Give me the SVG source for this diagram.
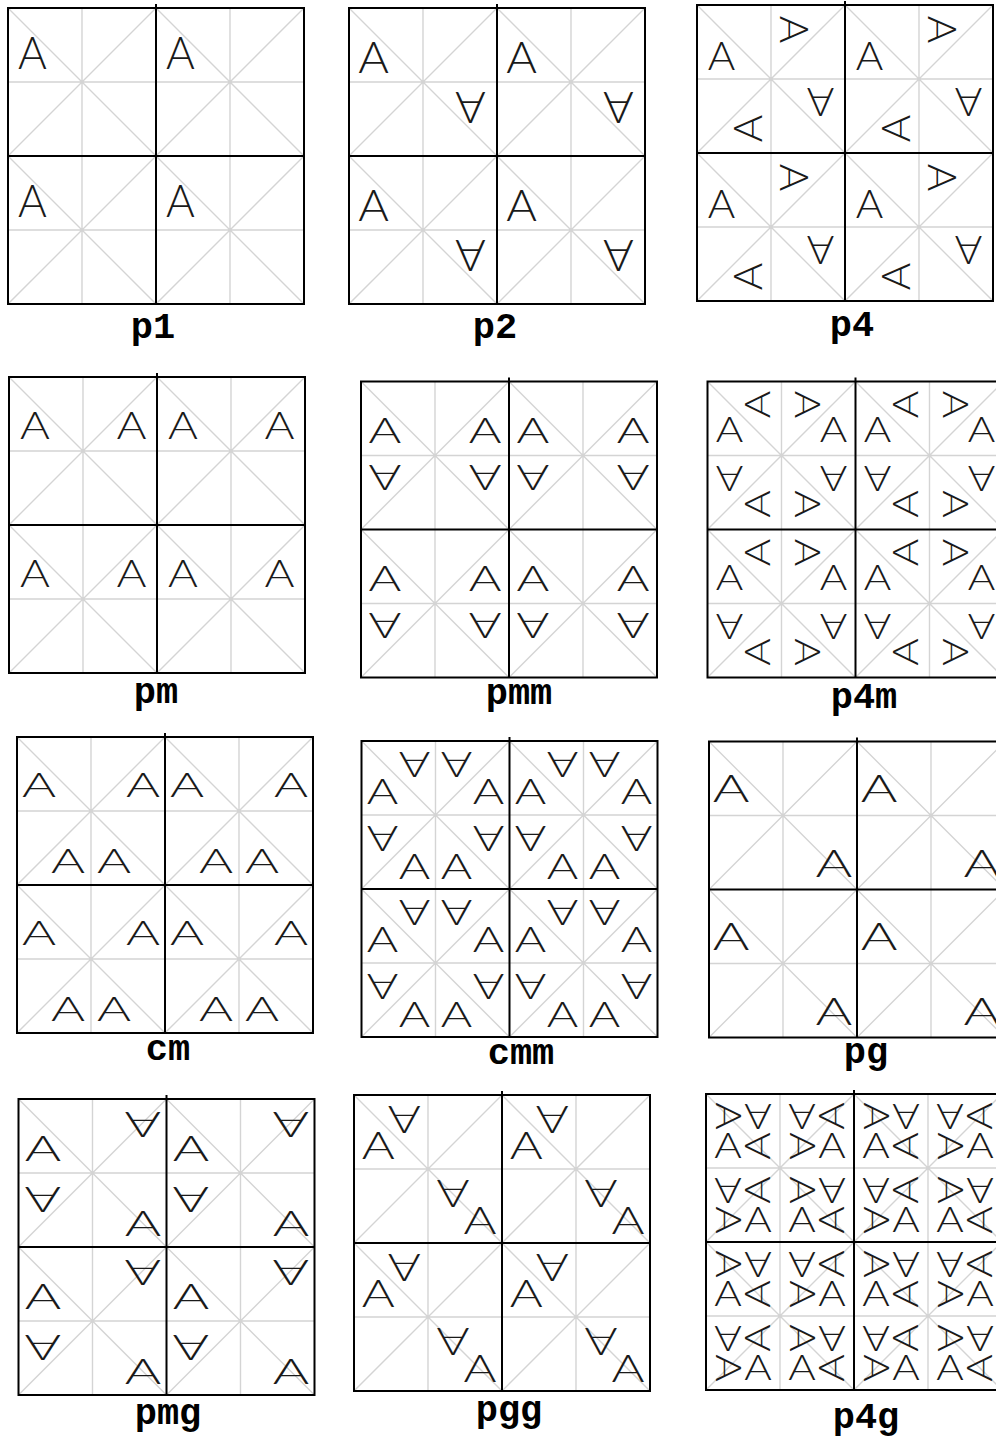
<svg xmlns="http://www.w3.org/2000/svg" xmlns:xlink="http://www.w3.org/1999/xlink" width="996" height="1436" viewBox="0 0 996 1436">
<style>
.bg{fill:#fff}
.grid{fill:none;stroke:#d4d4d4;stroke-width:1.4}
.frame{fill:none;stroke:#000;stroke-width:2}
.g{font-family:Lato,"Open Sans","DejaVu Sans",sans-serif;font-weight:300;font-size:40px;fill:#1a1a1a;text-anchor:middle}
.lbl{font-family:"Liberation Mono","DejaVu Sans Mono",monospace;font-weight:bold;font-size:37px;fill:#000;text-anchor:middle}
</style>
<defs>
<path id="grid" class="grid" d="M74 0V148M0 74H148M0 0L148 148M148 0L0 148"/>
<g id="grids"><use href="#grid"/><use href="#grid" x="148"/><use href="#grid" y="148"/><use href="#grid" x="148" y="148"/></g>
</defs>
<rect class="bg" width="996" height="1436"/>

<g id="panel-p1">
<g transform="translate(8,8)">
<use href="#grids"/>
<g><text class="g" y="14.3" transform="translate(24.5,45) scale(1.1,1.15)">A</text></g>
<g transform="translate(148,0)"><text class="g" y="14.3" transform="translate(24.5,45) scale(1.1,1.15)">A</text></g>
<g transform="translate(0,148)"><text class="g" y="14.3" transform="translate(24.5,45) scale(1.1,1.15)">A</text></g>
<g transform="translate(148,148)"><text class="g" y="14.3" transform="translate(24.5,45) scale(1.1,1.15)">A</text></g>
<path class="frame" d="M0 0H296V296H0ZM148 -4V296M0 148H296"/>
</g>
<text class="lbl" x="153" y="338">p1</text>
</g>

<g id="panel-p2">
<g transform="translate(349,8)">
<use href="#grids"/>
<g><text class="g" y="14.3" transform="translate(24.5,49) scale(1.17,1.1)">A</text><text class="g" y="14.3" transform="translate(121.5,100) rotate(180) scale(1.17,1.1)">A</text></g>
<g transform="translate(148,0)"><text class="g" y="14.3" transform="translate(24.5,49) scale(1.17,1.1)">A</text><text class="g" y="14.3" transform="translate(121.5,100) rotate(180) scale(1.17,1.1)">A</text></g>
<g transform="translate(0,148)"><text class="g" y="14.3" transform="translate(24.5,49) scale(1.17,1.1)">A</text><text class="g" y="14.3" transform="translate(121.5,100) rotate(180) scale(1.17,1.1)">A</text></g>
<g transform="translate(148,148)"><text class="g" y="14.3" transform="translate(24.5,49) scale(1.17,1.1)">A</text><text class="g" y="14.3" transform="translate(121.5,100) rotate(180) scale(1.17,1.1)">A</text></g>
<path class="frame" d="M0 0H296V296H0ZM148 -4V296M0 148H296"/>
</g>
<text class="lbl" x="495" y="338">p2</text>
</g>

<g id="panel-p4">
<g transform="translate(697,5)">
<use href="#grids"/>
<g><text class="g" y="14.3" transform="translate(24.5,50.5) scale(1.05,0.98)">A</text><text class="g" y="14.3" transform="translate(97.5,24.5) rotate(90) scale(1.05,0.98)">A</text><text class="g" y="14.3" transform="translate(123.5,97.5) rotate(180) scale(1.05,0.98)">A</text><text class="g" y="14.3" transform="translate(50.5,123.5) rotate(270) scale(1.05,0.98)">A</text></g>
<g transform="translate(148,0)"><text class="g" y="14.3" transform="translate(24.5,50.5) scale(1.05,0.98)">A</text><text class="g" y="14.3" transform="translate(97.5,24.5) rotate(90) scale(1.05,0.98)">A</text><text class="g" y="14.3" transform="translate(123.5,97.5) rotate(180) scale(1.05,0.98)">A</text><text class="g" y="14.3" transform="translate(50.5,123.5) rotate(270) scale(1.05,0.98)">A</text></g>
<g transform="translate(0,148)"><text class="g" y="14.3" transform="translate(24.5,50.5) scale(1.05,0.98)">A</text><text class="g" y="14.3" transform="translate(97.5,24.5) rotate(90) scale(1.05,0.98)">A</text><text class="g" y="14.3" transform="translate(123.5,97.5) rotate(180) scale(1.05,0.98)">A</text><text class="g" y="14.3" transform="translate(50.5,123.5) rotate(270) scale(1.05,0.98)">A</text></g>
<g transform="translate(148,148)"><text class="g" y="14.3" transform="translate(24.5,50.5) scale(1.05,0.98)">A</text><text class="g" y="14.3" transform="translate(97.5,24.5) rotate(90) scale(1.05,0.98)">A</text><text class="g" y="14.3" transform="translate(123.5,97.5) rotate(180) scale(1.05,0.98)">A</text><text class="g" y="14.3" transform="translate(50.5,123.5) rotate(270) scale(1.05,0.98)">A</text></g>
<path class="frame" d="M0 0H296V296H0ZM148 -4V296M0 148H296"/>
</g>
<text class="lbl" x="852" y="336">p4</text>
</g>

<g id="panel-pm">
<g transform="translate(9,377)">
<use href="#grids"/>
<g><text class="g" y="14.3" transform="translate(26,49) scale(1.14,0.93)">A</text><text class="g" y="14.3" transform="translate(122.5,49) scale(-1.14,0.93)">A</text></g>
<g transform="translate(148,0)"><text class="g" y="14.3" transform="translate(26,49) scale(1.14,0.93)">A</text><text class="g" y="14.3" transform="translate(122.5,49) scale(-1.14,0.93)">A</text></g>
<g transform="translate(0,148)"><text class="g" y="14.3" transform="translate(26,49) scale(1.14,0.93)">A</text><text class="g" y="14.3" transform="translate(122.5,49) scale(-1.14,0.93)">A</text></g>
<g transform="translate(148,148)"><text class="g" y="14.3" transform="translate(26,49) scale(1.14,0.93)">A</text><text class="g" y="14.3" transform="translate(122.5,49) scale(-1.14,0.93)">A</text></g>
<path class="frame" d="M0 0H296V296H0ZM148 -4V296M0 148H296"/>
</g>
<text class="lbl" x="156" y="703">pm</text>
</g>

<g id="panel-pmm">
<g transform="translate(361,381.5)">
<use href="#grids"/>
<g><text class="g" y="14.3" transform="translate(24,49) scale(1.25,0.87)">A</text><text class="g" y="14.3" transform="translate(124,49) scale(-1.25,0.87)">A</text><text class="g" y="14.3" transform="translate(24,96) scale(1.25,-0.87)">A</text><text class="g" y="14.3" transform="translate(124,96) scale(-1.25,-0.87)">A</text></g>
<g transform="translate(148,0)"><text class="g" y="14.3" transform="translate(24,49) scale(1.25,0.87)">A</text><text class="g" y="14.3" transform="translate(124,49) scale(-1.25,0.87)">A</text><text class="g" y="14.3" transform="translate(24,96) scale(1.25,-0.87)">A</text><text class="g" y="14.3" transform="translate(124,96) scale(-1.25,-0.87)">A</text></g>
<g transform="translate(0,148)"><text class="g" y="14.3" transform="translate(24,49) scale(1.25,0.87)">A</text><text class="g" y="14.3" transform="translate(124,49) scale(-1.25,0.87)">A</text><text class="g" y="14.3" transform="translate(24,96) scale(1.25,-0.87)">A</text><text class="g" y="14.3" transform="translate(124,96) scale(-1.25,-0.87)">A</text></g>
<g transform="translate(148,148)"><text class="g" y="14.3" transform="translate(24,49) scale(1.25,0.87)">A</text><text class="g" y="14.3" transform="translate(124,49) scale(-1.25,0.87)">A</text><text class="g" y="14.3" transform="translate(24,96) scale(1.25,-0.87)">A</text><text class="g" y="14.3" transform="translate(124,96) scale(-1.25,-0.87)">A</text></g>
<path class="frame" d="M0 0H296V296H0ZM148 -4V296M0 148H296"/>
</g>
<text class="lbl" x="519" y="704">pmm</text>
</g>

<g id="panel-p4m">
<g transform="translate(707.5,381.5)">
<use href="#grids"/>
<g><text class="g" y="14.3" transform="translate(22,48) scale(1.05,0.88)">A</text><text class="g" y="14.3" transform="translate(50,23) rotate(270) scale(1.05,0.88)">A</text><text class="g" y="14.3" transform="translate(100,23) rotate(90) scale(1.05,0.88)">A</text><text class="g" y="14.3" transform="translate(126,48) scale(1.05,0.88)">A</text><text class="g" y="14.3" transform="translate(126,97.5) rotate(180) scale(1.05,0.88)">A</text><text class="g" y="14.3" transform="translate(100,122.5) rotate(90) scale(1.05,0.88)">A</text><text class="g" y="14.3" transform="translate(50,122.5) rotate(270) scale(1.05,0.88)">A</text><text class="g" y="14.3" transform="translate(22,97.5) rotate(180) scale(1.05,0.88)">A</text></g>
<g transform="translate(148,0)"><text class="g" y="14.3" transform="translate(22,48) scale(1.05,0.88)">A</text><text class="g" y="14.3" transform="translate(50,23) rotate(270) scale(1.05,0.88)">A</text><text class="g" y="14.3" transform="translate(100,23) rotate(90) scale(1.05,0.88)">A</text><text class="g" y="14.3" transform="translate(126,48) scale(1.05,0.88)">A</text><text class="g" y="14.3" transform="translate(126,97.5) rotate(180) scale(1.05,0.88)">A</text><text class="g" y="14.3" transform="translate(100,122.5) rotate(90) scale(1.05,0.88)">A</text><text class="g" y="14.3" transform="translate(50,122.5) rotate(270) scale(1.05,0.88)">A</text><text class="g" y="14.3" transform="translate(22,97.5) rotate(180) scale(1.05,0.88)">A</text></g>
<g transform="translate(0,148)"><text class="g" y="14.3" transform="translate(22,48) scale(1.05,0.88)">A</text><text class="g" y="14.3" transform="translate(50,23) rotate(270) scale(1.05,0.88)">A</text><text class="g" y="14.3" transform="translate(100,23) rotate(90) scale(1.05,0.88)">A</text><text class="g" y="14.3" transform="translate(126,48) scale(1.05,0.88)">A</text><text class="g" y="14.3" transform="translate(126,97.5) rotate(180) scale(1.05,0.88)">A</text><text class="g" y="14.3" transform="translate(100,122.5) rotate(90) scale(1.05,0.88)">A</text><text class="g" y="14.3" transform="translate(50,122.5) rotate(270) scale(1.05,0.88)">A</text><text class="g" y="14.3" transform="translate(22,97.5) rotate(180) scale(1.05,0.88)">A</text></g>
<g transform="translate(148,148)"><text class="g" y="14.3" transform="translate(22,48) scale(1.05,0.88)">A</text><text class="g" y="14.3" transform="translate(50,23) rotate(270) scale(1.05,0.88)">A</text><text class="g" y="14.3" transform="translate(100,23) rotate(90) scale(1.05,0.88)">A</text><text class="g" y="14.3" transform="translate(126,48) scale(1.05,0.88)">A</text><text class="g" y="14.3" transform="translate(126,97.5) rotate(180) scale(1.05,0.88)">A</text><text class="g" y="14.3" transform="translate(100,122.5) rotate(90) scale(1.05,0.88)">A</text><text class="g" y="14.3" transform="translate(50,122.5) rotate(270) scale(1.05,0.88)">A</text><text class="g" y="14.3" transform="translate(22,97.5) rotate(180) scale(1.05,0.88)">A</text></g>
<path class="frame" d="M0 0H296V296H0ZM148 -4V296M0 148H296"/>
</g>
<text class="lbl" x="864" y="708">p4m</text>
</g>

<g id="panel-cm">
<g transform="translate(17,737)">
<use href="#grids"/>
<g><text class="g" y="14.3" transform="translate(22,48) scale(1.3,0.85)">A</text><text class="g" y="14.3" transform="translate(126,48) scale(1.3,0.85)">A</text><text class="g" y="14.3" transform="translate(51,123.5) scale(1.3,0.85)">A</text><text class="g" y="14.3" transform="translate(97,123.5) scale(1.3,0.85)">A</text></g>
<g transform="translate(148,0)"><text class="g" y="14.3" transform="translate(22,48) scale(1.3,0.85)">A</text><text class="g" y="14.3" transform="translate(126,48) scale(1.3,0.85)">A</text><text class="g" y="14.3" transform="translate(51,123.5) scale(1.3,0.85)">A</text><text class="g" y="14.3" transform="translate(97,123.5) scale(1.3,0.85)">A</text></g>
<g transform="translate(0,148)"><text class="g" y="14.3" transform="translate(22,48) scale(1.3,0.85)">A</text><text class="g" y="14.3" transform="translate(126,48) scale(1.3,0.85)">A</text><text class="g" y="14.3" transform="translate(51,123.5) scale(1.3,0.85)">A</text><text class="g" y="14.3" transform="translate(97,123.5) scale(1.3,0.85)">A</text></g>
<g transform="translate(148,148)"><text class="g" y="14.3" transform="translate(22,48) scale(1.3,0.85)">A</text><text class="g" y="14.3" transform="translate(126,48) scale(1.3,0.85)">A</text><text class="g" y="14.3" transform="translate(51,123.5) scale(1.3,0.85)">A</text><text class="g" y="14.3" transform="translate(97,123.5) scale(1.3,0.85)">A</text></g>
<path class="frame" d="M0 0H296V296H0ZM148 -4V296M0 148H296"/>
</g>
<text class="lbl" x="168" y="1060">cm</text>
</g>

<g id="panel-cmm">
<g transform="translate(361.5,741)">
<use href="#grids"/>
<g><text class="g" y="14.3" transform="translate(21,49.8) scale(1.2,0.9)">A</text><text class="g" y="14.3" transform="translate(127,49.8) scale(1.2,0.9)">A</text><text class="g" y="14.3" transform="translate(21,98.2) rotate(180) scale(1.2,0.9)">A</text><text class="g" y="14.3" transform="translate(127,98.2) rotate(180) scale(1.2,0.9)">A</text><text class="g" y="14.3" transform="translate(53,24) rotate(180) scale(1.2,0.9)">A</text><text class="g" y="14.3" transform="translate(95,24) rotate(180) scale(1.2,0.9)">A</text><text class="g" y="14.3" transform="translate(53,124.8) scale(1.2,0.9)">A</text><text class="g" y="14.3" transform="translate(95,124.8) scale(1.2,0.9)">A</text></g>
<g transform="translate(148,0)"><text class="g" y="14.3" transform="translate(21,49.8) scale(1.2,0.9)">A</text><text class="g" y="14.3" transform="translate(127,49.8) scale(1.2,0.9)">A</text><text class="g" y="14.3" transform="translate(21,98.2) rotate(180) scale(1.2,0.9)">A</text><text class="g" y="14.3" transform="translate(127,98.2) rotate(180) scale(1.2,0.9)">A</text><text class="g" y="14.3" transform="translate(53,24) rotate(180) scale(1.2,0.9)">A</text><text class="g" y="14.3" transform="translate(95,24) rotate(180) scale(1.2,0.9)">A</text><text class="g" y="14.3" transform="translate(53,124.8) scale(1.2,0.9)">A</text><text class="g" y="14.3" transform="translate(95,124.8) scale(1.2,0.9)">A</text></g>
<g transform="translate(0,148)"><text class="g" y="14.3" transform="translate(21,49.8) scale(1.2,0.9)">A</text><text class="g" y="14.3" transform="translate(127,49.8) scale(1.2,0.9)">A</text><text class="g" y="14.3" transform="translate(21,98.2) rotate(180) scale(1.2,0.9)">A</text><text class="g" y="14.3" transform="translate(127,98.2) rotate(180) scale(1.2,0.9)">A</text><text class="g" y="14.3" transform="translate(53,24) rotate(180) scale(1.2,0.9)">A</text><text class="g" y="14.3" transform="translate(95,24) rotate(180) scale(1.2,0.9)">A</text><text class="g" y="14.3" transform="translate(53,124.8) scale(1.2,0.9)">A</text><text class="g" y="14.3" transform="translate(95,124.8) scale(1.2,0.9)">A</text></g>
<g transform="translate(148,148)"><text class="g" y="14.3" transform="translate(21,49.8) scale(1.2,0.9)">A</text><text class="g" y="14.3" transform="translate(127,49.8) scale(1.2,0.9)">A</text><text class="g" y="14.3" transform="translate(21,98.2) rotate(180) scale(1.2,0.9)">A</text><text class="g" y="14.3" transform="translate(127,98.2) rotate(180) scale(1.2,0.9)">A</text><text class="g" y="14.3" transform="translate(53,24) rotate(180) scale(1.2,0.9)">A</text><text class="g" y="14.3" transform="translate(95,24) rotate(180) scale(1.2,0.9)">A</text><text class="g" y="14.3" transform="translate(53,124.8) scale(1.2,0.9)">A</text><text class="g" y="14.3" transform="translate(95,124.8) scale(1.2,0.9)">A</text></g>
<path class="frame" d="M0 0H296V296H0ZM148 -4V296M0 148H296"/>
</g>
<text class="lbl" x="521" y="1064">cmm</text>
</g>

<g id="panel-pg">
<g transform="translate(709,741.5)">
<use href="#grids"/>
<g><text class="g" y="14.3" transform="translate(22,46.7) scale(1.4,0.93)">A</text><text class="g" y="14.3" transform="translate(125,122.5) scale(-1.4,0.93)">A</text></g>
<g transform="translate(148,0)"><text class="g" y="14.3" transform="translate(22,46.7) scale(1.4,0.93)">A</text><text class="g" y="14.3" transform="translate(125,122.5) scale(-1.4,0.93)">A</text></g>
<g transform="translate(0,148)"><text class="g" y="14.3" transform="translate(22,46.7) scale(1.4,0.93)">A</text><text class="g" y="14.3" transform="translate(125,122.5) scale(-1.4,0.93)">A</text></g>
<g transform="translate(148,148)"><text class="g" y="14.3" transform="translate(22,46.7) scale(1.4,0.93)">A</text><text class="g" y="14.3" transform="translate(125,122.5) scale(-1.4,0.93)">A</text></g>
<path class="frame" d="M0 0H296V296H0ZM148 -4V296M0 148H296"/>
</g>
<text class="lbl" x="866" y="1063">pg</text>
</g>

<g id="panel-pmg">
<g transform="translate(18.5,1099)">
<use href="#grids"/>
<g><text class="g" y="14.3" transform="translate(24.4,49) scale(1.39,0.9)">A</text><text class="g" y="14.3" transform="translate(24.4,101) rotate(180) scale(1.39,0.9)">A</text><text class="g" y="14.3" transform="translate(124.4,25.7) rotate(180) scale(1.39,0.9)">A</text><text class="g" y="14.3" transform="translate(124.4,124) scale(1.39,0.9)">A</text></g>
<g transform="translate(148,0)"><text class="g" y="14.3" transform="translate(24.4,49) scale(1.39,0.9)">A</text><text class="g" y="14.3" transform="translate(24.4,101) rotate(180) scale(1.39,0.9)">A</text><text class="g" y="14.3" transform="translate(124.4,25.7) rotate(180) scale(1.39,0.9)">A</text><text class="g" y="14.3" transform="translate(124.4,124) scale(1.39,0.9)">A</text></g>
<g transform="translate(0,148)"><text class="g" y="14.3" transform="translate(24.4,49) scale(1.39,0.9)">A</text><text class="g" y="14.3" transform="translate(24.4,101) rotate(180) scale(1.39,0.9)">A</text><text class="g" y="14.3" transform="translate(124.4,25.7) rotate(180) scale(1.39,0.9)">A</text><text class="g" y="14.3" transform="translate(124.4,124) scale(1.39,0.9)">A</text></g>
<g transform="translate(148,148)"><text class="g" y="14.3" transform="translate(24.4,49) scale(1.39,0.9)">A</text><text class="g" y="14.3" transform="translate(24.4,101) rotate(180) scale(1.39,0.9)">A</text><text class="g" y="14.3" transform="translate(124.4,25.7) rotate(180) scale(1.39,0.9)">A</text><text class="g" y="14.3" transform="translate(124.4,124) scale(1.39,0.9)">A</text></g>
<path class="frame" d="M0 0H296V296H0ZM148 -4V296M0 148H296"/>
</g>
<text class="lbl" x="168" y="1424">pmg</text>
</g>

<g id="panel-pgg">
<g transform="translate(354,1095)">
<use href="#grids"/>
<g><text class="g" y="14.3" transform="translate(24.3,50.3) scale(1.26,0.95)">A</text><text class="g" y="14.3" transform="translate(50.2,25) rotate(180) scale(1.26,0.95)">A</text><text class="g" y="14.3" transform="translate(99,98.8) rotate(180) scale(1.26,0.95)">A</text><text class="g" y="14.3" transform="translate(126,125) scale(1.26,0.95)">A</text></g>
<g transform="translate(148,0)"><text class="g" y="14.3" transform="translate(24.3,50.3) scale(1.26,0.95)">A</text><text class="g" y="14.3" transform="translate(50.2,25) rotate(180) scale(1.26,0.95)">A</text><text class="g" y="14.3" transform="translate(99,98.8) rotate(180) scale(1.26,0.95)">A</text><text class="g" y="14.3" transform="translate(126,125) scale(1.26,0.95)">A</text></g>
<g transform="translate(0,148)"><text class="g" y="14.3" transform="translate(24.3,50.3) scale(1.26,0.95)">A</text><text class="g" y="14.3" transform="translate(50.2,25) rotate(180) scale(1.26,0.95)">A</text><text class="g" y="14.3" transform="translate(99,98.8) rotate(180) scale(1.26,0.95)">A</text><text class="g" y="14.3" transform="translate(126,125) scale(1.26,0.95)">A</text></g>
<g transform="translate(148,148)"><text class="g" y="14.3" transform="translate(24.3,50.3) scale(1.26,0.95)">A</text><text class="g" y="14.3" transform="translate(50.2,25) rotate(180) scale(1.26,0.95)">A</text><text class="g" y="14.3" transform="translate(99,98.8) rotate(180) scale(1.26,0.95)">A</text><text class="g" y="14.3" transform="translate(126,125) scale(1.26,0.95)">A</text></g>
<path class="frame" d="M0 0H296V296H0ZM148 -4V296M0 148H296"/>
</g>
<text class="lbl" x="509" y="1421">pgg</text>
</g>

<g id="panel-p4g">
<g transform="translate(706,1094)">
<use href="#grids"/>
<g><text class="g" y="14.3" transform="translate(22,51) scale(1.05,0.88)">A</text><text class="g" y="14.3" transform="translate(23,22) rotate(90) scale(1.05,0.88)">A</text><text class="g" y="14.3" transform="translate(52,23) rotate(180) scale(1.05,0.88)">A</text><text class="g" y="14.3" transform="translate(51,52) rotate(270) scale(1.05,0.88)">A</text><text class="g" y="14.3" transform="translate(126,51) scale(1.05,0.88)">A</text><text class="g" y="14.3" transform="translate(125,22) rotate(270) scale(1.05,0.88)">A</text><text class="g" y="14.3" transform="translate(96,23) rotate(180) scale(1.05,0.88)">A</text><text class="g" y="14.3" transform="translate(97,52) rotate(90) scale(1.05,0.88)">A</text><text class="g" y="14.3" transform="translate(22,97) rotate(180) scale(1.05,0.88)">A</text><text class="g" y="14.3" transform="translate(23,126) rotate(90) scale(1.05,0.88)">A</text><text class="g" y="14.3" transform="translate(52,125) scale(1.05,0.88)">A</text><text class="g" y="14.3" transform="translate(51,96) rotate(270) scale(1.05,0.88)">A</text><text class="g" y="14.3" transform="translate(126,97) rotate(180) scale(1.05,0.88)">A</text><text class="g" y="14.3" transform="translate(125,126) rotate(270) scale(1.05,0.88)">A</text><text class="g" y="14.3" transform="translate(96,125) scale(1.05,0.88)">A</text><text class="g" y="14.3" transform="translate(97,96) rotate(90) scale(1.05,0.88)">A</text></g>
<g transform="translate(148,0)"><text class="g" y="14.3" transform="translate(22,51) scale(1.05,0.88)">A</text><text class="g" y="14.3" transform="translate(23,22) rotate(90) scale(1.05,0.88)">A</text><text class="g" y="14.3" transform="translate(52,23) rotate(180) scale(1.05,0.88)">A</text><text class="g" y="14.3" transform="translate(51,52) rotate(270) scale(1.05,0.88)">A</text><text class="g" y="14.3" transform="translate(126,51) scale(1.05,0.88)">A</text><text class="g" y="14.3" transform="translate(125,22) rotate(270) scale(1.05,0.88)">A</text><text class="g" y="14.3" transform="translate(96,23) rotate(180) scale(1.05,0.88)">A</text><text class="g" y="14.3" transform="translate(97,52) rotate(90) scale(1.05,0.88)">A</text><text class="g" y="14.3" transform="translate(22,97) rotate(180) scale(1.05,0.88)">A</text><text class="g" y="14.3" transform="translate(23,126) rotate(90) scale(1.05,0.88)">A</text><text class="g" y="14.3" transform="translate(52,125) scale(1.05,0.88)">A</text><text class="g" y="14.3" transform="translate(51,96) rotate(270) scale(1.05,0.88)">A</text><text class="g" y="14.3" transform="translate(126,97) rotate(180) scale(1.05,0.88)">A</text><text class="g" y="14.3" transform="translate(125,126) rotate(270) scale(1.05,0.88)">A</text><text class="g" y="14.3" transform="translate(96,125) scale(1.05,0.88)">A</text><text class="g" y="14.3" transform="translate(97,96) rotate(90) scale(1.05,0.88)">A</text></g>
<g transform="translate(0,148)"><text class="g" y="14.3" transform="translate(22,51) scale(1.05,0.88)">A</text><text class="g" y="14.3" transform="translate(23,22) rotate(90) scale(1.05,0.88)">A</text><text class="g" y="14.3" transform="translate(52,23) rotate(180) scale(1.05,0.88)">A</text><text class="g" y="14.3" transform="translate(51,52) rotate(270) scale(1.05,0.88)">A</text><text class="g" y="14.3" transform="translate(126,51) scale(1.05,0.88)">A</text><text class="g" y="14.3" transform="translate(125,22) rotate(270) scale(1.05,0.88)">A</text><text class="g" y="14.3" transform="translate(96,23) rotate(180) scale(1.05,0.88)">A</text><text class="g" y="14.3" transform="translate(97,52) rotate(90) scale(1.05,0.88)">A</text><text class="g" y="14.3" transform="translate(22,97) rotate(180) scale(1.05,0.88)">A</text><text class="g" y="14.3" transform="translate(23,126) rotate(90) scale(1.05,0.88)">A</text><text class="g" y="14.3" transform="translate(52,125) scale(1.05,0.88)">A</text><text class="g" y="14.3" transform="translate(51,96) rotate(270) scale(1.05,0.88)">A</text><text class="g" y="14.3" transform="translate(126,97) rotate(180) scale(1.05,0.88)">A</text><text class="g" y="14.3" transform="translate(125,126) rotate(270) scale(1.05,0.88)">A</text><text class="g" y="14.3" transform="translate(96,125) scale(1.05,0.88)">A</text><text class="g" y="14.3" transform="translate(97,96) rotate(90) scale(1.05,0.88)">A</text></g>
<g transform="translate(148,148)"><text class="g" y="14.3" transform="translate(22,51) scale(1.05,0.88)">A</text><text class="g" y="14.3" transform="translate(23,22) rotate(90) scale(1.05,0.88)">A</text><text class="g" y="14.3" transform="translate(52,23) rotate(180) scale(1.05,0.88)">A</text><text class="g" y="14.3" transform="translate(51,52) rotate(270) scale(1.05,0.88)">A</text><text class="g" y="14.3" transform="translate(126,51) scale(1.05,0.88)">A</text><text class="g" y="14.3" transform="translate(125,22) rotate(270) scale(1.05,0.88)">A</text><text class="g" y="14.3" transform="translate(96,23) rotate(180) scale(1.05,0.88)">A</text><text class="g" y="14.3" transform="translate(97,52) rotate(90) scale(1.05,0.88)">A</text><text class="g" y="14.3" transform="translate(22,97) rotate(180) scale(1.05,0.88)">A</text><text class="g" y="14.3" transform="translate(23,126) rotate(90) scale(1.05,0.88)">A</text><text class="g" y="14.3" transform="translate(52,125) scale(1.05,0.88)">A</text><text class="g" y="14.3" transform="translate(51,96) rotate(270) scale(1.05,0.88)">A</text><text class="g" y="14.3" transform="translate(126,97) rotate(180) scale(1.05,0.88)">A</text><text class="g" y="14.3" transform="translate(125,126) rotate(270) scale(1.05,0.88)">A</text><text class="g" y="14.3" transform="translate(96,125) scale(1.05,0.88)">A</text><text class="g" y="14.3" transform="translate(97,96) rotate(90) scale(1.05,0.88)">A</text></g>
<path class="frame" d="M0 0H296V296H0ZM148 -4V296M0 148H296"/>
</g>
<text class="lbl" x="866" y="1428">p4g</text>
</g>
</svg>
